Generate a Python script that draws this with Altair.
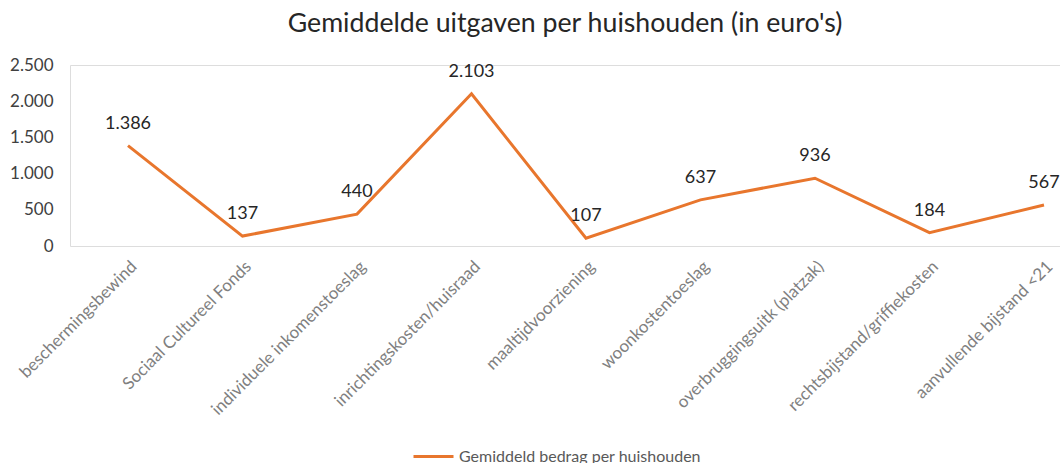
import altair as alt
import pandas as pd

categories = [
    "beschermingsbewind",
    "Sociaal Cultureel Fonds",
    "individuele inkomenstoeslag",
    "inrichtingskosten/huisraad",
    "maaltijdvoorziening",
    "woonkostentoeslag",
    "overbruggingsuitk (platzak)",
    "rechtsbijstand/griffiekosten",
    "aanvullende bijstand <21",
]
values = [1386, 137, 440, 2103, 107, 637, 936, 184, 567]
series_name = "Gemiddeld bedrag per huishouden"
y_ticks = [0, 500, 1000, 1500, 2000, 2500]

df = pd.DataFrame({"categorie": categories, "bedrag": values, "reeks": series_name})

FONT = "Lato"
ORANGE = "#E8762D"

x_enc = alt.X(
    "categorie:N",
    sort=categories,
    scale=alt.Scale(type="point", range=[58, 974], padding=0),
    axis=alt.Axis(
        title=None,
        labelAngle=-45,
        labelAlign="right",
        labelBaseline="top",
        labelFontSize=17,
        labelColor="#808080",
        labelFont=FONT,
        labelPadding=12,
        domain=False,
        ticks=False,
        grid=False,
        labelOverlap=False,
        labelLimit=400,
    ),
)
y_enc = alt.Y(
    "bedrag:Q",
    scale=alt.Scale(domain=[0, 2500], nice=False),
    axis=alt.Axis(
        title=None,
        values=y_ticks,
        labelExpr="replace(format(datum.value, ','), ',', '.')",
        labelFontSize=17,
        labelColor="#404040",
        labelFont=FONT,
        labelPadding=17,
        labelOverlap=False,
        domain=False,
        ticks=False,
        grid=False,
    ),
)

line = alt.Chart(df).mark_line(strokeWidth=3).encode(
    x=x_enc,
    y=y_enc,
    color=alt.Color(
        "reeks:N",
        scale=alt.Scale(domain=[series_name], range=[ORANGE]),
        legend=alt.Legend(
            title=None,
            orient="none",
            legendX=342,
            legendY=370,
            symbolType="stroke",
            symbolSize=1600,
            symbolStrokeWidth=3,
            labelFontSize=16,
            labelColor="#595959",
            labelFont=FONT,
            labelOffset=4,
            labelLimit=500,
        ),
    ),
)

labels = alt.Chart(df).transform_calculate(
    lbl="replace(format(datum.bedrag, ','), ',', '.')"
).mark_text(dy=-22, fontSize=18, font=FONT, color="#262626").encode(
    x=x_enc,
    y=y_enc,
    text="lbl:N",
)

chart = (
    alt.layer(line, labels)
    .properties(
        width=990,
        height=181,
        title=alt.TitleParams(
            "Gemiddelde uitgaven per huishouden (in euro's)",
            fontSize=26.7,
            font=FONT,
            fontWeight="normal",
            color="#262626",
            anchor="middle",
            offset=18,
        ),
        autosize=alt.AutoSizeParams(type="none"),
        padding={"left": 70, "top": 65, "right": 0, "bottom": 217},
    )
    .configure_axis(domain=False, grid=False, ticks=False, gridColor="white", domainColor="white")
    .configure_view(stroke=None, strokeWidth=0, fill="white")
    .configure(background="white")
)

chart.save("out.html", embed_options={"renderer": "svg", "actions": False})
